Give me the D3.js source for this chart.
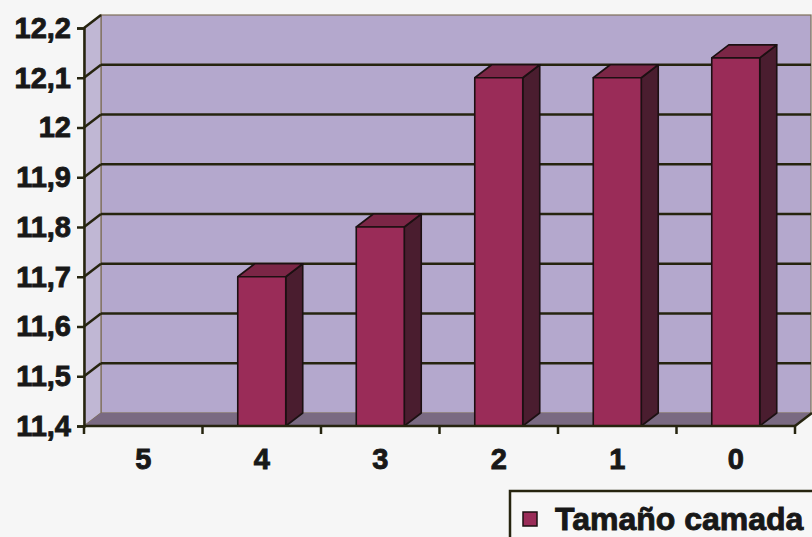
<!DOCTYPE html>
<html>
<head>
<meta charset="utf-8">
<script src="https://cdn.jsdelivr.net/npm/d3@7"></script>
<style>
  html, body { margin: 0; padding: 0; background: #f6f6f6; }
  svg { display: block; font-family: "Liberation Sans", Arial, sans-serif; font-weight: bold; }
</style>
</head>
<body>
<div class="bar_chart"></div>
<script>
// categories (read left to right) and values
const categories = ["5", "4", "3", "2", "1", "0"];
const litterSize = [null, 11.7, 11.8, 12.1, 12.1, 12.14];
const yTicks = [11.4, 11.5, 11.6, 11.7, 11.8, 11.9, 12.0, 12.1, 12.2];
const seriesName = "Tamaño camada";

const width = 812, height = 537;
const depth = { dx: 17, dy: -13 }; // 3D offset of the back wall

const colors = {
  wall: "#b4a8cd",
  side: "#c0b7d4",
  floor: "#7a6a82",
  grid: "#26240f",
  front: "#9a2c58",
  top: "#7b2646",
  dark: "#4a1d2f",
  edge: "#1c1012",
  text: "#181818"
};

const svg = d3.select(".bar_chart").append("svg")
  .attr("width", width)
  .attr("height", height)
  .attr("viewBox", [0, 0, width, height]);

const x = d3.scaleBand().domain(categories).range([84, 795]);
const y = d3.scaleLinear().domain([11.4, 12.2]).range([426, 28]);

const fmt = d3.formatLocale({ decimal: ",", thousands: ".", grouping: [3], currency: ["", ""] }).format(".1~f");

const x0 = x.range()[0], x1 = x.range()[1];
const yb = y(11.4), yt = y(12.2);

// heavier text, like the scanned original
const heavy = s => s
  .attr("fill", colors.text)
  .attr("stroke", colors.text)
  .attr("stroke-width", 0.9)
  .attr("font-weight", "bold")
  .attr("font-family", "'Liberation Sans', Arial, sans-serif");

// back wall
svg.append("rect")
  .attr("x", x0 + depth.dx).attr("y", yt + depth.dy)
  .attr("width", width - 1 - (x0 + depth.dx)).attr("height", yb - yt)
  .attr("fill", colors.wall)
  .attr("stroke", "#7d6e58").attr("stroke-width", 1.2);

// left wall
svg.append("path")
  .attr("d", `M${x0},${yt}L${x0 + depth.dx},${yt + depth.dy}L${x0 + depth.dx},${yb + depth.dy}L${x0},${yb}Z`)
  .attr("fill", colors.side)
  .attr("stroke", "#7d6e58").attr("stroke-width", 1.2);

// floor
svg.append("path")
  .attr("d", `M${x0},${yb}L${x0 + depth.dx},${yb + depth.dy}L${x1 + depth.dx},${yb + depth.dy}L${x1},${yb}Z`)
  .attr("fill", colors.floor);

// gridlines on the back wall + diagonals on the side wall
const grid = svg.append("g").attr("stroke", colors.grid).attr("stroke-width", 2.5).attr("fill", "none");
grid.selectAll("line.h")
  .data(yTicks.filter(t => t > 11.4 && t < 12.2))
  .join("line")
  .attr("class", "h")
  .attr("x1", x0 + depth.dx).attr("x2", width - 1)
  .attr("y1", d => y(d) + depth.dy).attr("y2", d => y(d) + depth.dy);
grid.selectAll("line.d")
  .data(yTicks.filter(t => t > 11.4))
  .join("line")
  .attr("class", "d")
  .attr("x1", x0).attr("y1", d => y(d))
  .attr("x2", x0 + depth.dx).attr("y2", d => y(d) + depth.dy);

// bars
const bw = x.bandwidth() * 0.405;
const bars = svg.append("g")
  .attr("stroke", colors.edge)
  .attr("stroke-width", 1.6)
  .attr("stroke-linejoin", "round")
  .selectAll("g")
  .data(categories.map((c, i) => ({ c, v: litterSize[i] })).filter(d => d.v != null))
  .join("g");

const bx = d => x(d.c) + (x.bandwidth() - bw) / 2;

bars.append("path") // side face
  .attr("fill", colors.dark)
  .attr("d", d => {
    const l = bx(d) + bw, t = y(d.v);
    return `M${l},${t}L${l + depth.dx},${t + depth.dy}L${l + depth.dx},${yb + depth.dy}L${l},${yb}Z`;
  });
bars.append("path") // top face
  .attr("fill", colors.top)
  .attr("d", d => {
    const l = bx(d), t = y(d.v);
    return `M${l},${t}L${l + depth.dx},${t + depth.dy}L${l + bw + depth.dx},${t + depth.dy}L${l + bw},${t}Z`;
  });
bars.append("rect") // front face
  .attr("fill", colors.front)
  .attr("x", bx)
  .attr("y", d => y(d.v))
  .attr("width", bw)
  .attr("height", d => yb - y(d.v));

// y axis
const yAxis = svg.append("g")
  .attr("transform", `translate(${x0},0)`)
  .call(d3.axisLeft(y).tickValues(yTicks).tickFormat(fmt).tickSize(7).tickPadding(6));
yAxis.selectAll("path, line").attr("stroke", colors.grid).attr("stroke-width", 2.5);
yAxis.selectAll("text")
  .attr("font-size", 29)
  .call(heavy);

// x axis: line, boundary ticks, centred labels
const xg = svg.append("g");
xg.append("line")
  .attr("x1", x0).attr("x2", x1).attr("y1", yb).attr("y2", yb)
  .attr("stroke", colors.grid).attr("stroke-width", 2.5);
xg.append("line")
  .attr("x1", x1).attr("y1", yb).attr("x2", x1 + depth.dx).attr("y2", yb + depth.dy)
  .attr("stroke", colors.grid).attr("stroke-width", 2.5);
const bounds = categories.map(c => x(c)).concat([x1]);
xg.selectAll("line.tick")
  .data(bounds)
  .join("line")
  .attr("class", "tick")
  .attr("x1", d => d).attr("x2", d => d)
  .attr("y1", yb).attr("y2", yb + 8)
  .attr("stroke", colors.grid).attr("stroke-width", 2.5);
xg.selectAll("text")
  .data(categories)
  .join("text")
  .attr("x", d => x(d) + x.bandwidth() / 2)
  .attr("y", 469)
  .attr("text-anchor", "middle")
  .attr("font-size", 29)
  .call(heavy)
  .text(d => d);

// legend
const legend = svg.append("g");
legend.append("rect")
  .attr("x", 510).attr("y", 491)
  .attr("width", 320).attr("height", 80)
  .attr("fill", "#f7f7f7")
  .attr("stroke", colors.grid).attr("stroke-width", 2.5);
legend.append("rect")
  .attr("x", 523).attr("y", 512)
  .attr("width", 14).attr("height", 14)
  .attr("fill", colors.front)
  .attr("stroke", colors.edge).attr("stroke-width", 1.5);
legend.append("text")
  .attr("x", 555).attr("y", 530)
  .attr("font-size", 32)
  .call(heavy)
  .text(seriesName);
</script>
</body>
</html>
